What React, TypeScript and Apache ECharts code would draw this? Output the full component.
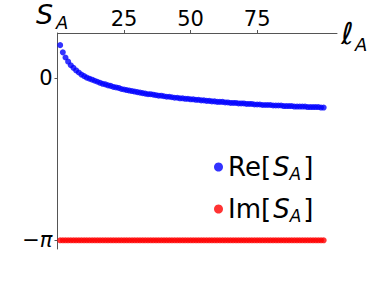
import React, { useEffect, useRef } from "react";
import * as echarts from "echarts";

const ell: number[] = Array.from({ length: 100 }, (_, i) => i + 1);
const reS: number[] = [
  0.64, 0.5, 0.4, 0.32, 0.25, 0.2, 0.15, 0.11, 0.07, 0.04,
  0.01, -0.01, -0.03, -0.05, -0.07, -0.09, -0.11, -0.12, -0.14, -0.15,
  -0.17, -0.18, -0.19, -0.21, -0.22, -0.23, -0.24, -0.25, -0.26, -0.27,
  -0.28, -0.29, -0.3, -0.31, -0.31, -0.32, -0.33, -0.34, -0.34, -0.35,
  -0.36, -0.36, -0.37, -0.38, -0.38, -0.39, -0.39, -0.4, -0.4, -0.41,
  -0.41, -0.42, -0.42, -0.43, -0.43, -0.44, -0.44, -0.45, -0.45, -0.46,
  -0.46, -0.46, -0.47, -0.47, -0.48, -0.48, -0.48, -0.49, -0.49, -0.49,
  -0.5, -0.5, -0.5, -0.51, -0.51, -0.51, -0.52, -0.52, -0.52, -0.52,
  -0.53, -0.53, -0.53, -0.53, -0.54, -0.54, -0.54, -0.54, -0.55, -0.55,
  -0.55, -0.55, -0.55, -0.56, -0.56, -0.56, -0.56, -0.56, -0.57, -0.57,
];
const imS: number[] = ell.map(() => -Math.PI);
const xTicks: number[] = [25, 50, 75];
const yTicks: number[] = [-Math.PI, 0];
const seriesNames: string[] = ["Re[S_A]", "Im[S_A]"];

const FONT = "DejaVu Sans";
const AXIS_COLOR = "#555";

export default function App() {
  const ref = useRef<HTMLDivElement>(null);
  useEffect(() => {
    if (!ref.current) return;
    const chart = echarts.init(ref.current, undefined, { renderer: "svg" });
    const rich = {
      n: { fontFamily: FONT, fontSize: 26, color: "#000", lineHeight: 30 },
      i: {
        fontFamily: FONT,
        fontSize: 26,
        fontStyle: "italic",
        color: "#000",
        lineHeight: 30,
        padding: [0, 0, 0, 2],
      },
      s: {
        fontFamily: FONT,
        fontSize: 17,
        fontStyle: "italic",
        color: "#000",
        verticalAlign: "bottom",
        lineHeight: 17,
        padding: [0, 2, 0, 0],
      },
    };
    chart.setOption({
      animation: false,
      backgroundColor: "#fff",
      grid: { left: 57.5, top: 33, right: 38, bottom: 32, containLabel: false },
      xAxis: {
        type: "value",
        position: "top",
        min: 0,
        max: 105,
        splitLine: { show: false },
        axisLine: { show: true, onZero: false, lineStyle: { color: AXIS_COLOR, width: 1 } },
        axisTick: { show: true, length: 3, customValues: xTicks, lineStyle: { color: AXIS_COLOR } },
        axisLabel: {
          customValues: xTicks,
          margin: 4,
          fontFamily: FONT,
          fontSize: 21,
          color: "#000",
        },
      },
      yAxis: {
        type: "value",
        min: -3.31,
        max: 0.875,
        splitLine: { show: false },
        axisLine: { show: true, onZero: false, lineStyle: { color: AXIS_COLOR, width: 1 } },
        axisTick: { show: true, length: 3, customValues: yTicks, lineStyle: { color: AXIS_COLOR } },
        axisLabel: {
          customValues: yTicks,
          margin: 5,
          fontFamily: FONT,
          fontSize: 21,
          color: "#000",
          formatter: (v: number) => (Math.abs(v) < 1e-9 ? "0" : "{n|−}{i|π}"),
          rich: {
            n: { fontFamily: FONT, fontSize: 21, color: "#000" },
            i: { fontFamily: FONT, fontSize: 21, fontStyle: "italic", color: "#000" },
          },
        },
      },
      legend: {
        orient: "vertical",
        left: 209,
        top: 149,
        icon: "circle",
        itemWidth: 9,
        itemHeight: 9,
        itemGap: 14,
        data: seriesNames,
        formatter: (name: string) => {
          const base = name.split("[")[0];
          return `{n|${base}[}{i|S}{s|A}{n|]}`;
        },
        textStyle: { rich, fontFamily: FONT, fontSize: 26 },
      },
      series: [
        {
          name: seriesNames[0],
          type: "scatter",
          symbolSize: 6,
          itemStyle: { color: "#0000ff" },
          data: ell.map((x, i) => [x, reS[i]]),
        },
        {
          name: seriesNames[1],
          type: "scatter",
          symbolSize: 6,
          itemStyle: { color: "#ff0000" },
          data: ell.map((x, i) => [x, imS[i]]),
        },
      ],
      graphic: [
        {
          type: "text",
          left: 36,
          top: 1,
          style: { text: "S", fontFamily: FONT, fontSize: 27, fontStyle: "italic", fill: "#000" },
        },
        {
          type: "text",
          left: 56,
          top: 13,
          style: { text: "A", fontFamily: FONT, fontSize: 18, fontStyle: "italic", fill: "#000" },
        },
        {
          type: "text",
          left: 341,
          top: 18,
          style: { text: "ℓ", fontFamily: FONT, fontSize: 30, fontStyle: "italic", fill: "#000" },
        },
        {
          type: "text",
          left: 355,
          top: 35,
          style: { text: "A", fontFamily: FONT, fontSize: 18, fontStyle: "italic", fill: "#000" },
        },
      ],
    });
    return () => chart.dispose();
  }, []);
  return (
    <div
      ref={ref}
      style={{ position: "fixed", left: 0, top: 0, width: 375, height: 281, background: "#fff" }}
    />
  );
}
